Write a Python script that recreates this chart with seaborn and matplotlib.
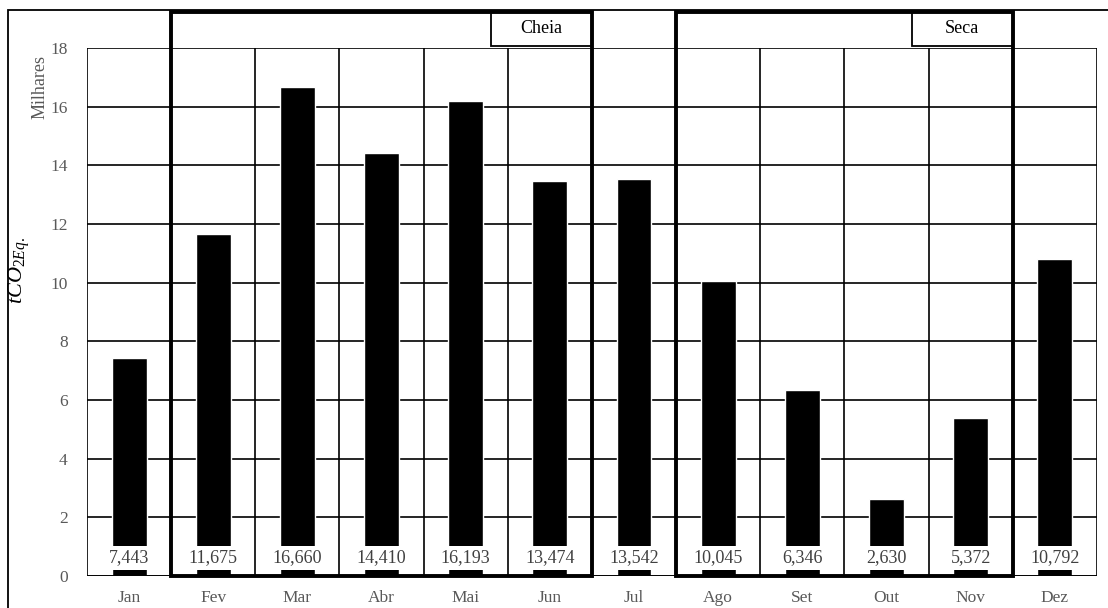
import matplotlib
matplotlib.use("Agg")
import matplotlib.pyplot as plt
from matplotlib.patches import Rectangle
import seaborn as sns
import pandas as pd

# Monthly emissions (tCO2 Eq.)
months = ["Jan", "Fev", "Mar", "Abr", "Mai", "Jun", "Jul", "Ago", "Set", "Out", "Nov", "Dez"]
emissions = [7443, 11675, 16660, 14410, 16193, 13474, 13542, 10045, 6346, 2630, 5372, 10792]

# Seasons: (name, first month, last month)
seasons = [("Cheia", "Fev", "Jun"), ("Seca", "Ago", "Nov")]

y_ticks = [0, 2, 4, 6, 8, 10, 12, 14, 16, 18]

sns.set_theme(style="white")
plt.rcParams["font.family"] = ["Liberation Serif", "DejaVu Serif"]
plt.rcParams["mathtext.fontset"] = "custom"
plt.rcParams["mathtext.rm"] = "Liberation Serif"
plt.rcParams["mathtext.it"] = "Liberation Serif:italic"

df = pd.DataFrame({"mes": months, "milhares": [v / 1000 for v in emissions]})

fig = plt.figure(figsize=(11.08, 6.08), dpi=100)
ax = fig.add_axes([0.0785, 0.0526, 0.9115, 0.8685])

sns.barplot(data=df, x="mes", y="milhares", color="black", saturation=1,
            width=0.415, ax=ax, zorder=3)

n = len(months)
ax.set_xlim(-0.5, n - 0.5)
ax.set_ylim(0, 18)
ax.set_yticks(y_ticks)
ax.set_xlabel("")
ax.set_ylabel("")

# Grid: horizontal lines at each tick, vertical lines between months
for y in y_ticks[1:]:
    ax.axhline(y, color="black", lw=1.2, zorder=1)
for i in range(n + 1):
    ax.axvline(i - 0.5, color="black", lw=1.2, zorder=1)
for s in ax.spines.values():
    s.set_visible(False)
ax.axhline(0, color="black", lw=1.4, zorder=4)

ax.tick_params(axis="both", length=0, colors="#595959", labelsize=12.5)
ax.tick_params(axis="y", pad=14)
ax.tick_params(axis="x", pad=10)

# Value labels on white background near the base of each bar
for i, v in enumerate(emissions):
    ax.text(i, 0.62, f"{v:,}", ha="center", va="center", fontsize=13,
            color="#404040", zorder=5,
            bbox=dict(boxstyle="square,pad=0.2", facecolor="white", edgecolor="none"))

# Season frames with their name tags
top = 19.23
for name, first, last in seasons:
    x0 = months.index(first) - 0.5
    x1 = months.index(last) + 0.5
    ax.add_patch(Rectangle((x0, 0), x1 - x0, top, fill=False, edgecolor="black",
                           lw=2.8, clip_on=False, zorder=6))
    ax.add_patch(Rectangle((x1 - 1.2, 18.07), 1.2, top - 18.07, facecolor="white",
                           edgecolor="black", lw=1.3, clip_on=False, zorder=5))
    ax.text(x1 - 0.6, (18.07 + top) / 2, name, ha="center", va="center",
            fontsize=13, color="black", zorder=7)

# Axis titles
fig.text(0.036, 0.857, "Milhares", rotation=90, ha="center", va="center",
         fontsize=13, color="#595959")
fig.text(0.017, 0.555, r"$tCO_{2Eq.}$", rotation=90, ha="center", va="center",
         fontsize=16, color="black")

# Outer frame
fig.add_artist(Rectangle((8 / 1108, -0.1), 1.2, 1 - 10 / 608 + 0.1, transform=fig.transFigure,
                         fill=False, edgecolor="black", lw=1.3))

fig.savefig("out.png", dpi=100)
